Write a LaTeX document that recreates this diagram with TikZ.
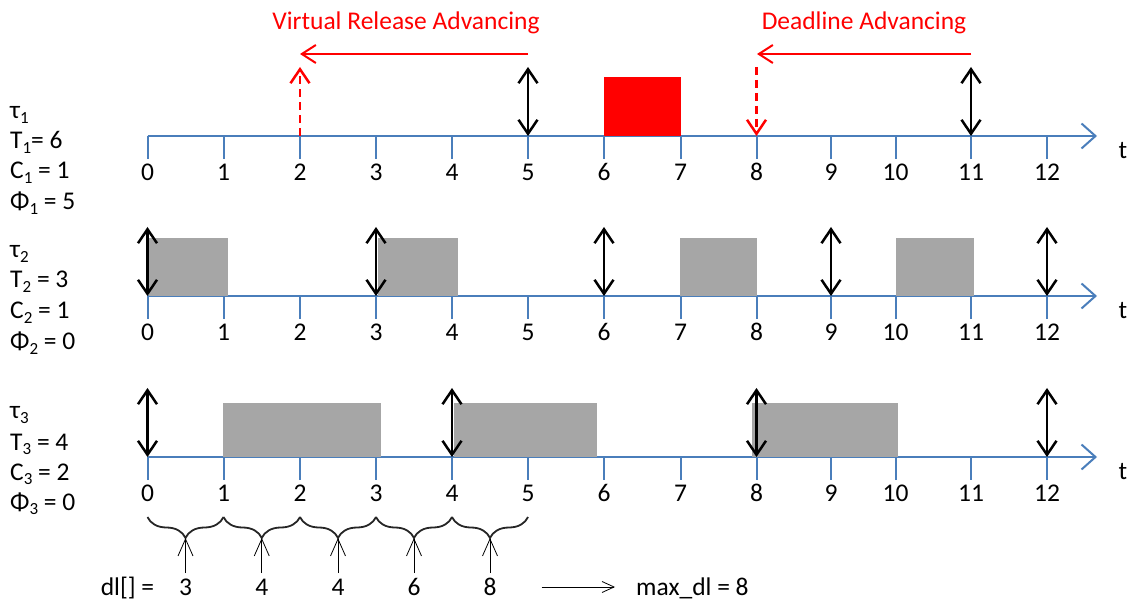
\documentclass[tikz,border=0pt]{standalone}
\usepackage{fontspec}
\setmainfont{Carlito}
\usetikzlibrary{arrows.meta,decorations.pathreplacing,calc}
\definecolor{axisblue}{RGB}{74,126,187}
\definecolor{boxgray}{RGB}{166,166,166}
\definecolor{pred}{RGB}{255,0,0}
\newcommand\lowsub[1]{\raisebox{-5pt}{\fontsize{17}{17}\selectfont #1}}
\begin{document}
\begin{tikzpicture}[x=1pt,y=-1pt,
  lbl/.style={font=\fontsize{25.5}{25.5}\selectfont, inner sep=0pt},
  axisline/.style={draw=axisblue, line width=2pt, -{Straight Barb[length=14pt,width=25pt]}},
  tickline/.style={draw=axisblue, line width=2pt},
  relarrow/.style={draw=black, line width=2.5pt, {Straight Barb[length=14pt,width=19pt]}-{Straight Barb[length=14pt,width=19pt]}},
  redarrow/.style={draw=pred, line width=2pt, -{Straight Barb[length=14pt,width=18pt]}},
  reddash/.style={draw=pred, line width=2.5pt, dash pattern=on 8pt off 5pt, -{Straight Barb[length=14pt,width=19pt]}},
  graybox/.style={fill=boxgray},
  redbox/.style={fill=pred},
  bracedeco/.style={draw=black!85, line width=1.8pt, decorate, decoration={brace, mirror, amplitude=21pt}},
  thinarrow/.style={draw=black, line width=0.8pt, -{Straight Barb[length=17pt,width=15pt]}},
  resultarrow/.style={draw=black, line width=0.8pt, -{Straight Barb[length=12pt,width=11pt]}}
]
\useasboundingbox (0,0) rectangle (1133,601);

% axes with ticks and labels
\foreach \r/\y in {1/136,2/296,3/457}{
  \coordinate (s\r) at (147.5,\y);
  \coordinate (e\r) at (1097,\y);
  \foreach \i/\x in {0/147.5,1/223.5,2/300,3/376,4/452,5/528,6/604,7/680.5,8/756.5,9/831,10/895.5,11/971,12/1047}{
    \coordinate (a\r-\i) at (\x,\y);
    \coordinate (d\r-\i) at (\x,\y+23);
    \coordinate (u\r-\i) at (\x,\y-69);
    \draw[tickline] (a\r-\i) -- (d\r-\i);
    \node[lbl] (n\r-\i) at (\x,\y+36) {\i};
  }
  \draw[axisline] (s\r) -- (e\r);
  \node[lbl] (t\r) at (1123,\y+15) {t};
}

% execution boxes
\fill[redbox] (604,77) rectangle (680.5,136);
\fill[graybox] (149,238) rectangle (228,296);
\fill[graybox] (377.6,238) rectangle (457.5,296);
\fill[graybox] (680,238) rectangle (757,296);
\fill[graybox] (895.7,238) rectangle (974,296);
\fill[graybox] (223,403) rectangle (381,457);
\fill[graybox] (454,403) rectangle (597,457);
\fill[graybox] (752,403) rectangle (897.5,457);

% release / deadline arrows
\draw[relarrow] (a1-5) -- (u1-5);
\draw[relarrow] (a1-11) -- (u1-11);
\foreach \i in {0,3,6,9,12}{ \draw[relarrow] (a2-\i) -- (u2-\i); }
\foreach \i in {0,4,8,12}{ \draw[relarrow] (a3-\i) -- (u3-\i); }

% advancing (red)
\draw[reddash] (a1-2) -- (u1-2);
\draw[reddash] (u1-8) -- (a1-8);
\coordinate (vrs) at (528,54);
\coordinate (vre) at (300,54);
\coordinate (das) at (971,54);
\coordinate (dae) at (757,54);
\draw[redarrow] (vrs) -- (vre);
\draw[redarrow] (das) -- (dae);
\node[lbl, text=pred, anchor=base] (vrtext) at (406,30) {Virtual Release Advancing};
\node[lbl, text=pred, anchor=base] (datext) at (864,30) {Deadline Advancing};

% task parameters
\node[lbl, anchor=base west] (tau1) at (10,119) {τ\lowsub{1}};
\node[lbl, anchor=base west] (T1) at (10,149) {T\lowsub{1}= 6};
\node[lbl, anchor=base west] (C1) at (10,179) {C\lowsub{1} = 1};
\node[lbl, anchor=base west] (P1) at (10,210) {Φ\lowsub{1} = 5};
\node[lbl, anchor=base west] (tau2) at (10,258) {τ\lowsub{2}};
\node[lbl, anchor=base west] (T2) at (10,288) {T\lowsub{2} = 3};
\node[lbl, anchor=base west] (C2) at (10,319) {C\lowsub{2} = 1};
\node[lbl, anchor=base west] (P2) at (10,350) {Φ\lowsub{2} = 0};
\node[lbl, anchor=base west] (tau3) at (10,419) {τ\lowsub{3}};
\node[lbl, anchor=base west] (T3) at (10,450) {T\lowsub{3} = 4};
\node[lbl, anchor=base west] (C3) at (10,480) {C\lowsub{3} = 2};
\node[lbl, anchor=base west] (P3) at (10,510) {Φ\lowsub{3} = 0};

% braces and dl values
\foreach \i/\x in {0/147.5,1/223.5,2/300,3/376,4/452,5/528}{
  \coordinate (b\i) at (\x,517);
}
\foreach \i/\j in {0/1,1/2,2/3,3/4,4/5}{
  \draw[bracedeco] (b\i) -- (b\j);
}
\foreach \k/\x/\v in {0/185.5/3,1/261.75/4,2/338/4,3/414/6,4/490/8}{
  \coordinate (m\k) at (\x,573);
  \coordinate (p\k) at (\x,538);
  \draw[thinarrow] (m\k) -- (p\k);
  \node[lbl] (v\k) at (\x,587) {\v};
}
\node[lbl, anchor=base] (dl) at (127.5,595) {dl[] =};
\coordinate (mxs) at (541.7,587);
\coordinate (mxe) at (615,587);
\draw[resultarrow] (mxs) -- (mxe);
\node[lbl, anchor=base west] (maxdl) at (636,595) {max\_dl = 8};
\end{tikzpicture}
\end{document}
